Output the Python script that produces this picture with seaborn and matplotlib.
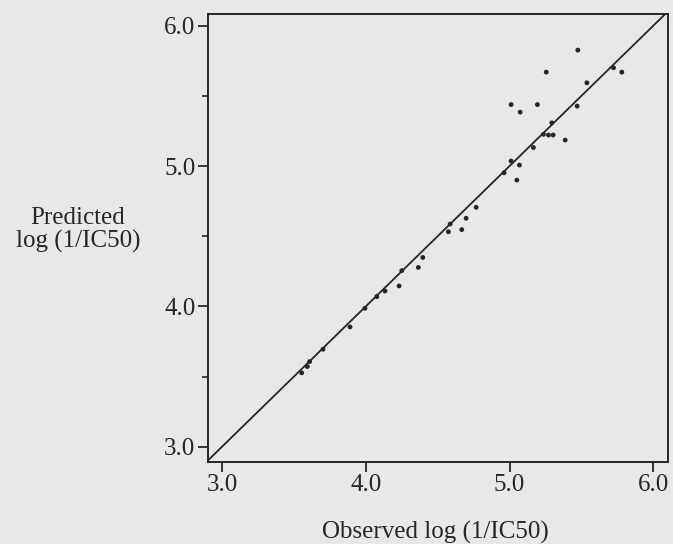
import matplotlib
matplotlib.use("Agg")
import matplotlib.pyplot as plt
import seaborn as sns
import pandas as pd
from matplotlib.ticker import FixedLocator

# ---- data ----
observed = [3.555, 3.594, 3.610, 3.703, 3.891, 3.995, 4.077, 4.134, 4.232, 4.251,
            4.366, 4.397, 4.575, 4.587, 4.668, 4.698, 4.768, 4.962, 5.011, 5.069,
            5.051, 5.166, 5.236, 5.271, 5.303, 5.294, 5.387, 5.011, 5.074, 5.194,
            5.255, 5.470, 5.475, 5.538, 5.723, 5.781]
predicted = [3.527, 3.572, 3.607, 3.695, 3.854, 3.987, 4.070, 4.110, 4.146, 4.255,
             4.278, 4.349, 4.532, 4.587, 4.547, 4.628, 4.706, 4.952, 5.036, 5.007,
             4.900, 5.132, 5.226, 5.221, 5.221, 5.308, 5.185, 5.438, 5.384, 5.438,
             5.669, 5.427, 5.826, 5.593, 5.700, 5.669]
identity = [2.0, 7.0]
tick_values = [3.0, 4.0, 5.0, 6.0]
tick_labels = ["3.0", "4.0", "5.0", "6.0"]
minor_y = [3.5, 4.5, 5.5]
x_label = "Observed log (1/IC50)"
y_label = "Predicted\nlog (1/IC50)"

df = pd.DataFrame({"observed": observed, "predicted": predicted})

sns.set_style("ticks")
plt.rcParams["font.family"] = ["Liberation Serif", "DejaVu Serif"]

bg = "#e8e8e6"
ink = "#262626"
fig = plt.figure(figsize=(6.73, 5.44), dpi=100, facecolor=bg)
ax = fig.add_axes([0.309, 0.151, 0.684, 0.823])
ax.set_facecolor(bg)

ax.plot(identity, identity, color=ink, lw=1.3, zorder=2)
sns.scatterplot(data=df, x="observed", y="predicted", ax=ax, color=ink,
                s=12, edgecolor="none", zorder=3)

ax.set_xlim(2.903, 6.104)
ax.set_ylim(2.893, 6.082)

ax.xaxis.set_major_locator(FixedLocator(tick_values))
ax.yaxis.set_major_locator(FixedLocator(tick_values))
ax.set_xticklabels(tick_labels)
ax.set_yticklabels(tick_labels)
ax.yaxis.set_minor_locator(FixedLocator(minor_y))

ax.tick_params(axis="both", which="major", direction="out", length=7, width=1.3,
               color=ink, labelsize=18, labelcolor=ink, pad=2)
ax.tick_params(axis="y", which="minor", direction="out", length=4, width=1.2, color=ink)

for sp in ax.spines.values():
    sp.set_visible(True)
    sp.set_linewidth(1.4)
    sp.set_color(ink)

ax.set_xlabel("")
ax.set_ylabel("")
fig.text(0.647, 0.021, x_label, ha="center", va="center", fontsize=18, color=ink)
fig.text(0.116, 0.577, y_label, ha="center", va="center", fontsize=18, color=ink,
         linespacing=1.05)

fig.savefig("out.png", dpi=100, facecolor=bg)
